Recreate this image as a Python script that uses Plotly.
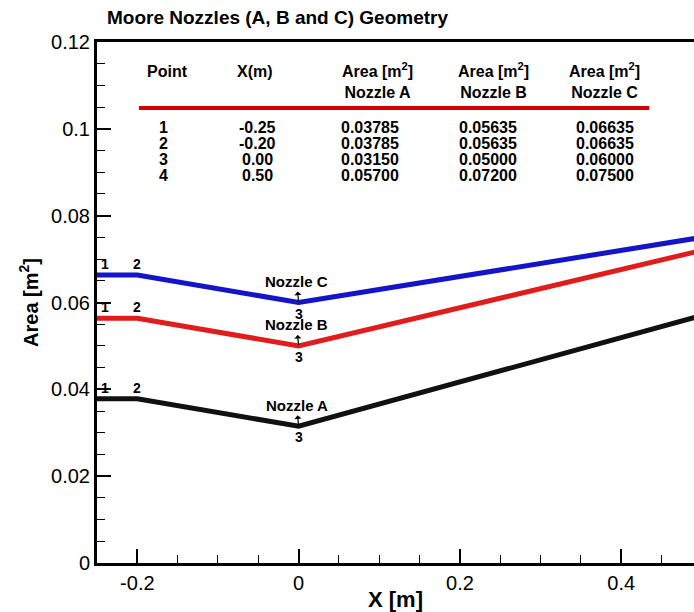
import plotly.graph_objects as go

# ---------------- data ----------------
points = ["1", "2", "3", "4"]
x_m = [-0.25, -0.20, 0.00, 0.50]
area_A = [0.03785, 0.03785, 0.03150, 0.05700]
area_B = [0.05635, 0.05635, 0.05000, 0.07200]
area_C = [0.06635, 0.06635, 0.06000, 0.07500]
series_names = ["Nozzle A", "Nozzle B", "Nozzle C"]
series_colors = ["#111111", "#e01c1c", "#1414c8"]
x_fmt = ["-0.25", "-0.20", "0.00", "0.50"]

FONT = "Liberation Sans, Arial, sans-serif"

fig = go.Figure()
series = [area_A, area_B, area_C]
for name, vals, col in zip(series_names, series, series_colors):
    fig.add_trace(go.Scatter(x=x_m, y=vals, mode="lines", name=name,
                             line=dict(color=col, width=5), showlegend=False))

lfont = dict(size=14, family=FONT, color="black")
ann = []
# point labels on curves
for name, vals in zip(series_names, series):
    ann.append(dict(x=x_m[0], y=vals[0], text="<b>1</b>", showarrow=False,
                    xshift=8, yshift=11, font=lfont))
    ann.append(dict(x=x_m[1], y=vals[1], text="<b>2</b>", showarrow=False,
                    yshift=11, font=lfont))
    ann.append(dict(x=x_m[2], y=vals[2], text="<b>3</b>", showarrow=False,
                    yshift=-11, font=lfont))
    ann.append(dict(x=x_m[3], y=vals[3], text="<b>4</b>", showarrow=False,
                    xshift=-6, yshift=10, font=lfont))
    ann.append(dict(x=x_m[2], y=vals[2], text="<b>%s</b>" % name, showarrow=True,
                    ax=-2, ay=-21, arrowside="start", arrowhead=2, arrowsize=0.9,
                    arrowwidth=1.2, arrowcolor="black", standoff=1, startstandoff=0,
                    font=dict(size=15, family=FONT, color="black")))

# table
hdr_x = [-0.1624, -0.054, 0.0972, 0.241, 0.3787]
val_x = [-0.1675, -0.0516, 0.0885, 0.2349, 0.38]
tfont = dict(size=16, family=FONT, color="black")
ann.append(dict(x=hdr_x[0], y=0.1132, text="<b>Point</b>", showarrow=False, font=tfont))
ann.append(dict(x=hdr_x[1], y=0.1132, text="<b>X(m)</b>", showarrow=False, font=tfont))
for i, name in enumerate(series_names):
    ann.append(dict(x=hdr_x[2 + i], y=0.1112, text="<b>Area [m<sup>2</sup>]<br>%s</b>" % name,
                    showarrow=False, font=tfont))
row_y = [0.1002, 0.09655, 0.09287, 0.0892]
for r in range(4):
    ann.append(dict(x=val_x[0], y=row_y[r], text="<b>%s</b>" % points[r], showarrow=False, font=tfont))
    ann.append(dict(x=val_x[1], y=row_y[r], text="<b>%s</b>" % x_fmt[r], showarrow=False, font=tfont))
    for i, vals in enumerate(series):
        ann.append(dict(x=val_x[2 + i], y=row_y[r], text="<b>%.5f</b>" % vals[r],
                        showarrow=False, font=tfont))

fig.add_shape(type="line", x0=-0.198, x1=0.4347, y0=0.1048, y1=0.1048,
              line=dict(color="#d40000", width=4))

fig.update_layout(
    width=694, height=612,
    margin=dict(l=97, r=0, t=42, b=49),
    paper_bgcolor="white", plot_bgcolor="white",
    annotations=ann,
    title=dict(text="<b>Moore Nozzles (A, B and C) Geometry</b>",
               font=dict(size=19, family=FONT, color="black"),
               x=107 / 694, xanchor="left", xref="container",
               y=1 - 17 / 612, yanchor="middle", yref="container"),
    xaxis=dict(range=[-0.25, 0.4902], tickvals=[-0.2, 0, 0.2, 0.4],
               ticktext=["-0.2", "0", "0.2", "0.4"],
               ticks="inside", ticklen=14, tickwidth=2, tickcolor="black",
               minor=dict(dtick=0.05, tick0=0, ticks="inside", ticklen=8, tickwidth=1, tickcolor="black"),
               showline=True, linewidth=3, linecolor="black", mirror=True,
               showgrid=False, zeroline=False,
               tickfont=dict(size=20, family=FONT, color="black"),
               title=dict(text="<b>X [m]</b>", font=dict(size=22, family=FONT, color="black"), standoff=0)),
    yaxis=dict(range=[0, 0.12], tickvals=[0, 0.02, 0.04, 0.06, 0.08, 0.1, 0.12],
               ticktext=["0", "0.02", "0.04", "0.06", "0.08", "0.1", "0.12"],
               ticks="inside", ticklen=14, tickwidth=2, tickcolor="black",
               minor=dict(dtick=0.005, tick0=0, ticks="inside", ticklen=8, tickwidth=1, tickcolor="black"),
               showline=True, linewidth=3, linecolor="black",
               showgrid=False, zeroline=False,
               tickfont=dict(size=20, family=FONT, color="black"),
               title=dict(text="<b>Area [m<sup>2</sup>]</b>", font=dict(size=20, family=FONT, color="black"), standoff=8)),
)

fig.write_html("out.html")
